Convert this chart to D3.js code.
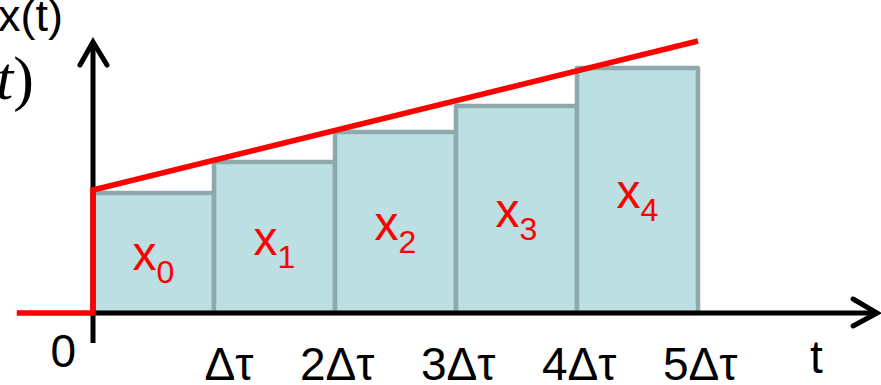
<!DOCTYPE html>
<html>
<head>
<meta charset="utf-8">
<script src="https://cdn.jsdelivr.net/npm/d3@7"></script>
<style>
  html, body { margin: 0; padding: 0; background: #fff; }
  svg { display: block; }
</style>
</head>
<body>
<script>
// ---- data ----
const categories = ["x0", "x1", "x2", "x3", "x4"];
const labelMain = ["x", "x", "x", "x", "x"];
const labelSub = ["0", "1", "2", "3", "4"];
const barStart = [0, 1, 2, 3, 4];
const barValues = [1.20, 1.51, 1.81, 2.07, 2.45];
const tickValues = [1, 2, 3, 4, 5];
const tickLabels = ["Δτ", "2Δτ", "3Δτ", "4Δτ", "5Δτ"];
const zeroLabel = "0";
const redT = [-0.63, 0, 0, 5];
const redX = [0, 0, 1.23, 2.72];
const xAxisMax = 6.48;
const yAxisMin = -0.30;
const yAxisMax = 2.71;

// ---- layout ----
const W = 881, H = 385;
const svg = d3.select("body").append("svg").attr("width", W).attr("height", H);
const x = d3.scaleLinear().domain([0, 5]).range([93, 698]);
const y = d3.scaleLinear().domain([0, 3]).range([313, 13]);

const font = "Arial, 'Liberation Sans', Helvetica, sans-serif";

// bars
svg.append("g").selectAll("rect").data(barValues).join("rect")
  .attr("x", (d, i) => x(barStart[i]))
  .attr("y", d => y(d))
  .attr("width", (d, i) => x(barStart[i] + 1) - x(barStart[i]))
  .attr("height", d => y(0) - y(d))
  .attr("fill", "#bbdfe2")
  .attr("stroke", "#8ea9ab")
  .attr("stroke-width", 4.5)
  .attr("stroke-linejoin", "round");

// bar labels
const lbl = svg.append("g").selectAll("text").data(barValues).join("text")
  .attr("x", (d, i) => (x(barStart[i]) + x(barStart[i] + 1)) / 2)
  .attr("y", d => y(d / 2) + 17)
  .attr("text-anchor", "middle")
  .attr("fill", "#ff0000")
  .attr("font-family", font);
lbl.append("tspan").attr("font-size", 48).text((d, i) => labelMain[i]);
lbl.append("tspan").attr("font-size", 32).attr("dy", 13).text((d, i) => labelSub[i]);

// axes lines
const axes = svg.append("g").attr("stroke", "#000").attr("fill", "none")
  .attr("stroke-width", 5);
axes.append("line").attr("x1", x(0)).attr("x2", x(xAxisMax))
  .attr("y1", y(0)).attr("y2", y(0));
axes.append("line").attr("x1", x(0)).attr("x2", x(0))
  .attr("y1", y(yAxisMin)).attr("y2", y(yAxisMax));
// arrowheads
axes.append("path")
  .attr("d", `M${x(xAxisMax) - 24},${y(0) - 14}L${x(xAxisMax)},${y(0)}L${x(xAxisMax) - 24},${y(0) + 13}`)
  .attr("stroke-linecap", "round").attr("stroke-linejoin", "miter");
axes.append("path")
  .attr("d", `M${x(0) - 13},${y(yAxisMax) + 23}L${x(0)},${y(yAxisMax)}L${x(0) + 14},${y(yAxisMax) + 23}`)
  .attr("stroke-linecap", "round").attr("stroke-linejoin", "miter");

// red signal line
const redLine = d3.line().x(d => x(d[0])).y(d => y(d[1]));
svg.append("path")
  .attr("d", redLine(redT.map((t, i) => [t, redX[i]])))
  .attr("fill", "none").attr("stroke", "#ff0000").attr("stroke-width", 5.5)
  .attr("stroke-linejoin", "miter");

// tick labels via axis
const xAxis = d3.axisBottom(x).tickValues(tickValues)
  .tickFormat((d, i) => tickLabels[i]).tickSize(0);
const gx = svg.append("g").attr("transform", "translate(0,380)").call(xAxis);
gx.select(".domain").remove();
gx.selectAll("text")
  .attr("y", 0).attr("dy", null).attr("dx", 39)
  .attr("text-anchor", "end")
  .attr("fill", "#000")
  .attr("font-family", font)
  .attr("font-size", 46);

svg.append("text").attr("x", x(0) - 17).attr("y", 367)
  .attr("text-anchor", "end").attr("font-family", font).attr("font-size", 46)
  .text(zeroLabel);

// axis titles
svg.append("text").attr("x", 810).attr("y", 373)
  .attr("font-family", font).attr("font-size", 46).text("t");
svg.append("text").attr("x", -2).attr("y", 31)
  .attr("font-family", font).attr("font-size", 45).text("x(t)");
const ser = svg.append("text").attr("x", 34).attr("y", 99)
  .attr("text-anchor", "end")
  .attr("font-family", "'Liberation Serif', 'Times New Roman', serif")
  .attr("font-size", 62);
ser.append("tspan").text("x(");
ser.append("tspan").attr("font-style", "italic").text("t");
ser.append("tspan").text(")");
</script>
</body>
</html>
